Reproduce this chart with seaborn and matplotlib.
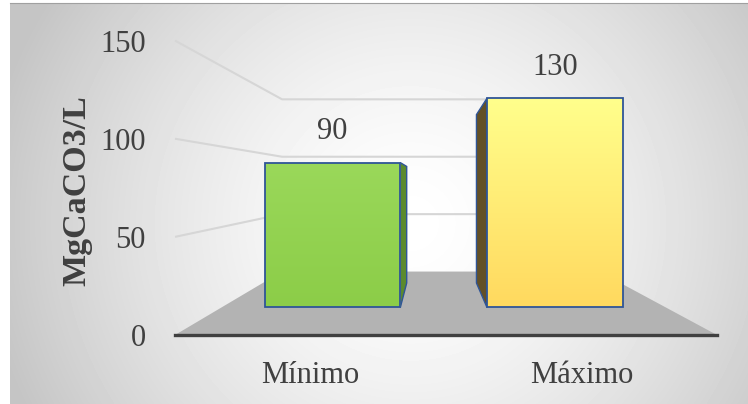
import numpy as np
import matplotlib
matplotlib.use("Agg")
import matplotlib.pyplot as plt
import seaborn as sns
from matplotlib.patches import Polygon

# ---- data -------------------------------------------------------------
categories = ["Mínimo", "Máximo"]
values = [90, 130]
yticks = [0, 50, 100, 150]
ylabel = "MgCaCO3/L"

# ---- style ------------------------------------------------------------
sns.set_theme(style="white")
plt.rcParams["font.family"] = ["Liberation Serif", "DejaVu Serif"]
TEXT = "#404040"
EDGE = "#2f5597"
FACE_COLORS = ["#92d050", "#ffe070"]
SIDE_COLORS = ["#5b8a2e", "#635026"]

W, H = 748, 404
fig = plt.figure(figsize=(W / 100, H / 100), dpi=100)
fig.patch.set_facecolor("white")


def px_box(x0, y_top, x1, y_bottom):
    """Axes rectangle from pixel edges measured from the top-left corner."""
    return [x0 / W, 1 - y_bottom / H, (x1 - x0) / W, (y_bottom - y_top) / H]


# ---- soft radial background ---------------------------------------------
bg = fig.add_axes(px_box(10, 3, W, H))
gy, gx = np.mgrid[0:401, 0:738]
r = np.sqrt(((gx - 400) / 430.0) ** 2 + ((gy - 220) / 420.0) ** 2)
shade = 1 - 0.23 * np.clip(r, 0, 1) ** 1.5
bg.imshow(shade, cmap="gray", vmin=0, vmax=1, aspect="auto",
          interpolation="bilinear")
bg.set_xticks([])
bg.set_yticks([])
for name, sp in bg.spines.items():
    sp.set_visible(name == "top")
    sp.set_color("#a0a0a0")
    sp.set_linewidth(0.8)

# ---- front plane of the 3-D box ---------------------------------------
XMIN, XMAX = -0.5, 1.5
YMIN, YMAX = 0, 150
box = px_box(175, 40.6, 717, 335)
ax = fig.add_axes(box)
ax.set_xlim(XMIN, XMAX)
ax.set_ylim(YMIN, YMAX)
ax.patch.set_alpha(0)

# perspective: vanishing point and depth scales (1 = front, smaller = deeper)
XC, VC = 0.452, 77.9
S_BACK, S_FACE, S_REAR = 0.585, 0.82, 0.66


def proj(x, v, s):
    return (XC + s * (x - XC), VC + s * (v - VC))


# floor
floor = Polygon([proj(XMIN, 0, 1), proj(XMAX, 0, 1),
                 proj(XMAX, 0, S_BACK), proj(XMIN, 0, S_BACK)],
                closed=True, facecolor="#b3b3b3", edgecolor="none",
                zorder=1, clip_on=False)
ax.add_patch(floor)

# gridlines on the left and back walls
for t in yticks[1:]:
    p_front = proj(XMIN, t, 1)
    p_back_l = proj(XMIN, t, S_BACK)
    p_back_r = proj(XMAX, t, S_BACK)
    ax.plot([p_front[0], p_back_l[0], p_back_r[0]],
            [p_front[1], p_back_l[1], p_back_r[1]],
            color="#d6d6d6", lw=1.5, zorder=2, clip_on=False,
            solid_capstyle="butt")

# ---- bars (front faces) in their own depth plane ------------------------
ax_bar = fig.add_axes(box)
ax_bar.patch.set_alpha(0)
sns.barplot(x=categories, y=values, hue=categories, palette=FACE_COLORS,
            width=0.61, saturation=1, legend=False, ax=ax_bar,
            edgecolor=EDGE, linewidth=1.3)

gradients = [("#8ccd48", "#9ad85a"), ("#ffd95f", "#ffff8c")]
bars = [p for p in ax_bar.patches if p.get_height() > 0]
for i, patch in enumerate(bars):
    x0, w, h = patch.get_x(), patch.get_width(), patch.get_height()
    lo, hi = (np.array(matplotlib.colors.to_rgb(c)) for c in gradients[i])
    ramp = np.linspace(0, 1, 64)[:, None, None]
    img = lo + (hi - lo) * ramp
    im = ax_bar.imshow(img, extent=(x0, x0 + w, 0, h), origin="lower",
                       aspect="auto", interpolation="bilinear", zorder=2)
    im.set_clip_path(patch)
    patch.set_facecolor("none")
    patch.set_zorder(3)

    # value label above the bar
    ax_bar.annotate(f"{h:g}", (x0 + w / 2, h), xytext=(0, 12),
                    textcoords="offset points", ha="center", va="bottom",
                    fontsize=22, color=TEXT)

    # visible side face, toward the vanishing point
    edge = x0 + w if x0 + w / 2 < XC else x0
    side = Polygon([proj(edge, 0, S_FACE), proj(edge, h, S_FACE),
                    proj(edge, h, S_REAR), proj(edge, 0, S_REAR)],
                   closed=True, facecolor=SIDE_COLORS[i], edgecolor=EDGE,
                   lw=1.0, zorder=3, clip_on=False)
    ax.add_patch(side)

ax_bar.set_xlim(XC + (XMIN - XC) / S_FACE, XC + (XMAX - XC) / S_FACE)
ax_bar.set_ylim(VC + (YMIN - VC) / S_FACE, VC + (YMAX - VC) / S_FACE)
ax_bar.axis("off")

# ---- axes decoration on the front plane ---------------------------------
ax.set_xticks(range(len(categories)))
ax.set_xticklabels(categories)
ax.set_yticks(yticks)
ax.tick_params(axis="y", length=0, pad=21, labelsize=22, labelcolor=TEXT)
ax.tick_params(axis="x", length=0, pad=19, labelsize=22, labelcolor=TEXT)
ax.set_ylabel(ylabel, fontsize=24.5, fontweight="bold", color=TEXT)
ax.yaxis.set_label_coords(-0.153, 0.49)
for name, sp in ax.spines.items():
    sp.set_visible(name == "bottom")
ax.spines["bottom"].set_color(TEXT)
ax.spines["bottom"].set_linewidth(2.4)
ax.spines["bottom"].set_zorder(4)
ax.grid(False)

fig.savefig("out.png", dpi=100)
